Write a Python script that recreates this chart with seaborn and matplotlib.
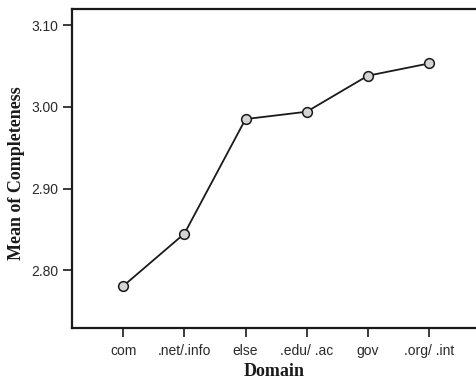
import matplotlib
matplotlib.use("Agg")
import matplotlib.pyplot as plt
import seaborn as sns
import pandas as pd

domains = ["com", ".net/.info", "else", ".edu/ .ac", "gov", ".org/ .int"]
means = [2.781, 2.845, 2.985, 2.994, 3.038, 3.053]
yticks = [2.80, 2.90, 3.00, 3.10]
ytick_labels = ["2.80", "2.90", "3.00", "3.10"]

sns.set_theme(style="white")
plt.rcParams["font.family"] = ["Liberation Sans", "DejaVu Sans"]

df = pd.DataFrame({"Domain": domains, "Mean": means})

fig = plt.figure(figsize=(4.76, 3.78), dpi=100)
ax = fig.add_axes([72/476, 1-327.7/378, 1-72/476, (327.7-9.3)/378])

sns.lineplot(data=df, x="Domain", y="Mean", ax=ax, sort=False,
             color="#1a1a1a", linewidth=1.3, marker="o", markersize=7,
             markerfacecolor="#d4d4d4", markeredgecolor="#1a1a1a",
             markeredgewidth=1.1)

ax.set_xlim(-0.839, 5.77)
ax.set_ylim(2.730, 3.1192)
ax.set_yticks(yticks)
ax.set_yticklabels(ytick_labels)

for side in ["left", "bottom", "top"]:
    ax.spines[side].set_visible(True)
    ax.spines[side].set_color("#1a1a1a")
    ax.spines[side].set_linewidth(1.6)
ax.spines["right"].set_visible(False)

ax.tick_params(axis="both", which="major", direction="out", length=6.5,
               width=1.2, color="#1a1a1a", labelsize=10, labelcolor="#2a2a2a",
               left=True, bottom=True)
ax.tick_params(axis="x", pad=5)
ax.tick_params(axis="y", pad=3.5)

ax.set_xlabel("Domain", fontsize=13, fontweight="bold",
              family=["Liberation Serif", "DejaVu Serif"], labelpad=3.5,
              color="#1a1a1a")
ax.set_ylabel("Mean of Completeness", fontsize=13, fontweight="bold",
              family=["Liberation Serif", "DejaVu Serif"], labelpad=4,
              color="#1a1a1a")
ax.yaxis.label.set_y(0.484)
ax.grid(False)

fig.savefig("out.png", dpi=100)
